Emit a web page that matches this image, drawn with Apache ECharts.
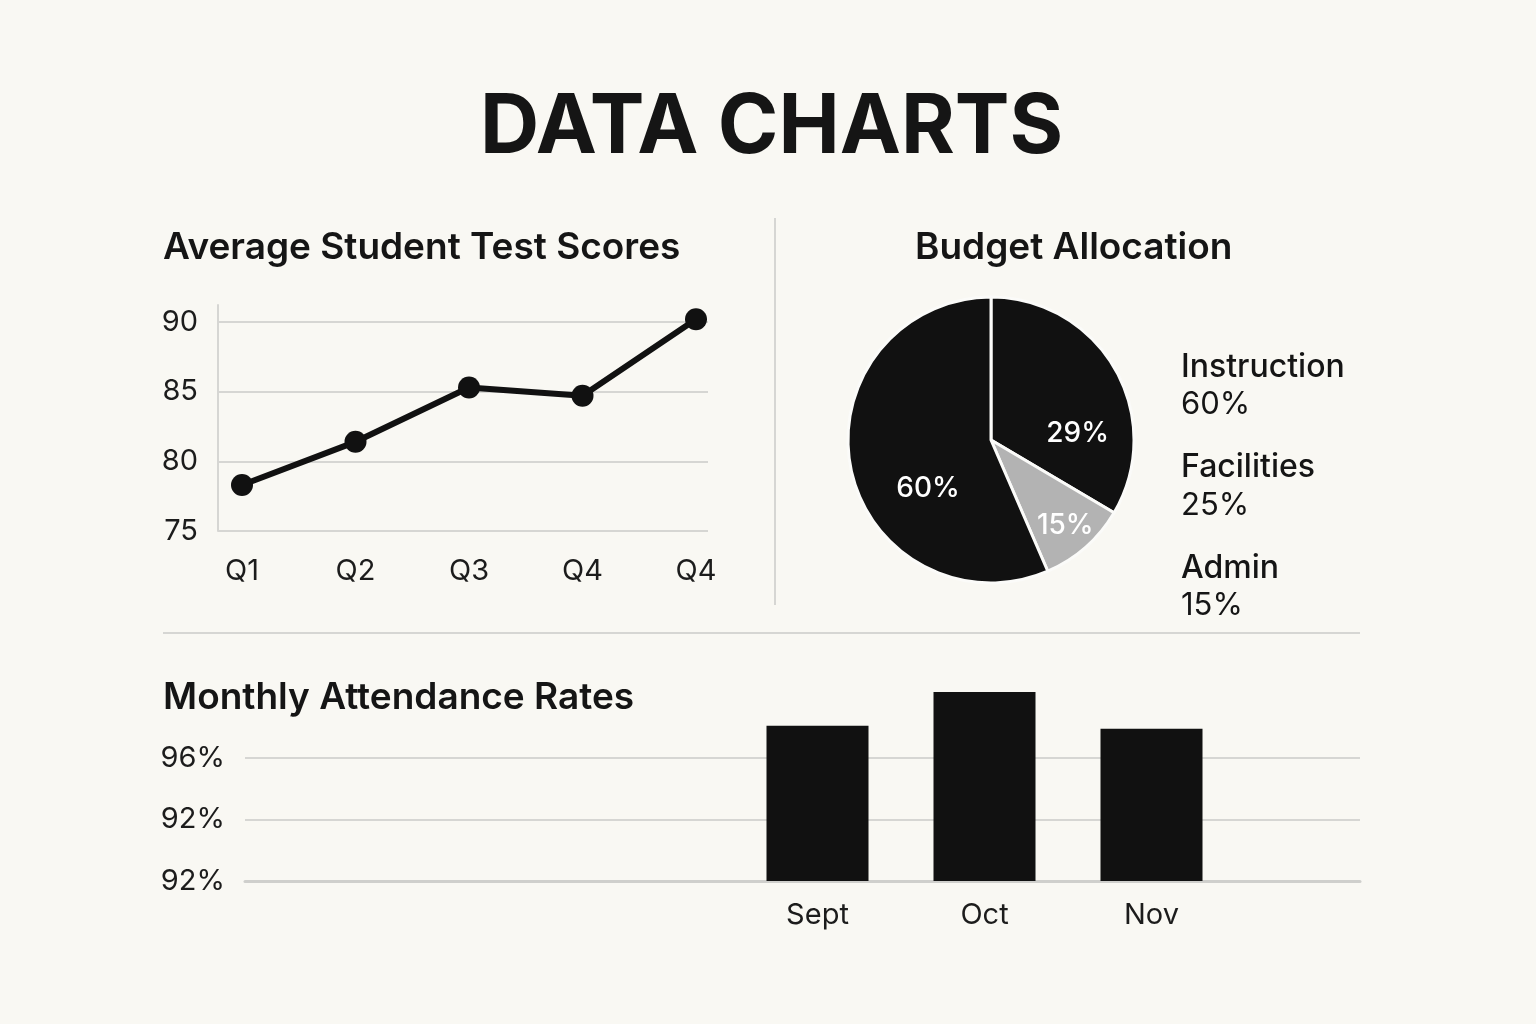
<!DOCTYPE html>
<html lang="en">
<head>
    <meta charset="UTF-8">
    <title>Data Charts</title>
    <script src="https://cdn.jsdelivr.net/npm/echarts@6.0.0/dist/echarts.min.js"></script>
    <style>
        html, body { margin: 0; padding: 0; background: #f9f8f3; }
        #main { width: 1536px; height: 1024px; }
    </style>
</head>
<body>
<div id="main"></div>
<script type="text/javascript">
    // test scores per quarter (the last label really is Q4 twice)
    var scoreQuarters = ['Q1', 'Q2', 'Q3', 'Q4', 'Q4'];
    var scoreValues = [78.3, 81.4, 85.3, 84.7, 90.2];

    // budget pie: slice sizes as drawn, and the text printed on them
    var budgetNames = ['Facilities', 'Admin', 'Instruction'];
    var budgetSizes = [33.5, 10, 56.5];
    var budgetSliceLabels = ['29%', '15%', '60%'];
    var legendNames = ['Instruction', 'Facilities', 'Admin'];
    var legendPercents = ['60%', '25%', '15%'];

    // attendance bars and the (odd) tick labels of the picture
    var attendanceMonths = ['Sept', 'Oct', 'Nov'];
    var attendanceValues = [98.1, 100.3, 97.9];
    var attendanceTickLabels = ['92%', '92%', '96%'];

    var FONT = 'Inter, "Noto Sans", sans-serif';
    var ink = '#151515';
    var rule = '#d6d6d3';

    var sectionTitle = { fontSize: 37, fontWeight: 600, color: ink, lineHeight: 37, fontFamily: FONT };
    var tickText = { fontSize: 29, color: '#1c1c1c', fontFamily: FONT };

    // pie slice colours and label nudges (dx, dy) to sit like the original
    var sliceColors = ['#111111', '#b3b3b3', '#111111'];
    var labelNudge = [[22, 30], [25, 30], [10, 33]];

    var pieData = [];
    var pieRich = {};
    for (var i = 0; i < budgetNames.length; i++) {
        var n = labelNudge[i];
        pieRich['s' + i] = { lineHeight: 2 * n[1], fontSize: 2 };
        pieRich['t' + i] = { lineHeight: 30, fontSize: 28, fontWeight: 500, color: '#fff', fontFamily: FONT };
        pieData.push({
            name: budgetNames[i],
            value: budgetSizes[i],
            itemStyle: { color: sliceColors[i] },
            label: { padding: [0, Math.max(0, -2 * n[0]), 0, Math.max(0, 2 * n[0])] }
        });
    }

    // data grids reach a bit higher than the tick grids; keep the same px per unit
    var scoreMaxTop = 75 + 15 * 226 / 209;
    var attendanceMaxTop = 88 + 8 * 201 / 123;

    var myChart = echarts.init(document.getElementById('main'));

    var option = {
        backgroundColor: '#f9f8f3',
        animation: false,
        textStyle: { fontFamily: FONT },
        title: [
            { text: 'DATA CHARTS', left: 480, top: 87, padding: 0,
              textStyle: { fontSize: 82, fontWeight: 700, color: ink, lineHeight: 82, fontFamily: FONT } },
            { text: 'Average Student Test Scores', left: 163, top: 229, padding: 0, textStyle: sectionTitle },
            { text: 'Budget Allocation', left: 915, top: 229, padding: 0, textStyle: sectionTitle },
            { text: 'Monthly Attendance Rates', left: 163, top: 679, padding: 0, textStyle: sectionTitle }
        ],
        legend: {
            data: legendNames,
            orient: 'vertical',
            left: 1175,
            top: 351,
            padding: 0,
            itemGap: 31,
            icon: 'rect',
            itemWidth: 0,
            itemHeight: 0,
            selectedMode: false,
            formatter: function (name) {
                return '{n|' + name + '}\n{p|' + legendPercents[legendNames.indexOf(name)] + '}';
            },
            textStyle: {
                rich: {
                    n: { fontSize: 32, fontWeight: 500, color: ink, lineHeight: 38, fontFamily: FONT },
                    p: { fontSize: 31, fontWeight: 400, color: ink, lineHeight: 38, fontFamily: FONT }
                }
            }
        },
        grid: [
            { left: 218, top: 305, width: 490, height: 226, outerBoundsMode: 'none' },
            { left: 218, top: 322, width: 490, height: 209, outerBoundsMode: 'none' },
            { left: 242, top: 305, width: 454, height: 226, outerBoundsMode: 'none' },
            { left: 245, top: 758, width: 1115, height: 123, outerBoundsMode: 'none' },
            { left: 734, top: 680, width: 501, height: 201, outerBoundsMode: 'none' }
        ],
        xAxis: [
            { gridIndex: 0, type: 'value', show: false },
            { gridIndex: 1, type: 'value', show: false },
            {
                gridIndex: 2, type: 'category', data: scoreQuarters, boundaryGap: false,
                axisLine: { show: false }, axisTick: { show: false },
                axisLabel: Object.assign({ margin: 26, interval: 0 }, tickText)
            },
            {
                gridIndex: 3, type: 'value', min: 0, max: 1,
                axisLine: { show: true, lineStyle: { color: '#cfcfcc', width: 3 } },
                axisTick: { show: false }, axisLabel: { show: false }, splitLine: { show: false }
            },
            {
                gridIndex: 4, type: 'category', data: attendanceMonths,
                axisLine: { show: false }, axisTick: { show: false },
                axisLabel: Object.assign({ margin: 20, interval: 0 }, tickText)
            }
        ],
        yAxis: [
            {
                gridIndex: 0, type: 'value', min: 0, max: 1,
                axisLine: { show: true, lineStyle: { color: rule, width: 2 } },
                axisTick: { show: false }, axisLabel: { show: false }, splitLine: { show: false }
            },
            {
                gridIndex: 1, type: 'value', min: 75, max: 90, interval: 5,
                axisLine: { show: false }, axisTick: { show: false },
                axisLabel: Object.assign({ margin: 20 }, tickText),
                splitLine: { lineStyle: { color: rule, width: 2 } }
            },
            { gridIndex: 2, type: 'value', min: 75, max: scoreMaxTop, show: false },
            {
                gridIndex: 3, type: 'value', min: 88, max: 96, interval: 4,
                axisLine: { show: false }, axisTick: { show: false },
                axisLabel: Object.assign({
                    margin: 20,
                    formatter: function (v, idx) { return attendanceTickLabels[idx]; }
                }, tickText),
                splitLine: { lineStyle: { color: rule, width: 2 } }
            },
            { gridIndex: 4, type: 'value', min: 88, max: attendanceMaxTop, show: false }
        ],
        series: [
            {
                type: 'line',
                xAxisIndex: 2,
                yAxisIndex: 2,
                data: scoreValues,
                symbol: 'circle',
                symbolSize: 22,
                lineStyle: { color: '#111', width: 6 },
                itemStyle: { color: '#111' },
                silent: true
            },
            {
                type: 'pie',
                center: [991, 440],
                radius: 143,
                startAngle: 90,
                clockwise: true,
                avoidLabelOverlap: false,
                silent: true,
                itemStyle: { borderColor: '#fbfbf9', borderWidth: 3 },
                label: {
                    show: true,
                    position: 'inside',
                    color: '#fff',
                    fontSize: 28,
                    fontWeight: 500,
                    fontFamily: FONT,
                    rich: pieRich,
                    formatter: function (p) {
                        var k = p.dataIndex;
                        return '{s' + k + '| }\n{t' + k + '|' + budgetSliceLabels[k] + '}';
                    }
                },
                labelLine: { show: false },
                emphasis: { disabled: true },
                data: pieData
            },
            {
                type: 'bar',
                xAxisIndex: 4,
                yAxisIndex: 4,
                data: attendanceValues,
                barWidth: 102,
                itemStyle: { color: '#111' },
                silent: true
            }
        ],
        graphic: [
            { type: 'line', shape: { x1: 775, y1: 218, x2: 775, y2: 605 }, style: { stroke: rule, lineWidth: 2 } },
            { type: 'line', shape: { x1: 163, y1: 633, x2: 1360, y2: 633 }, style: { stroke: rule, lineWidth: 2 } }
        ]
    };

    myChart.setOption(option);
</script>
</body>
</html>
